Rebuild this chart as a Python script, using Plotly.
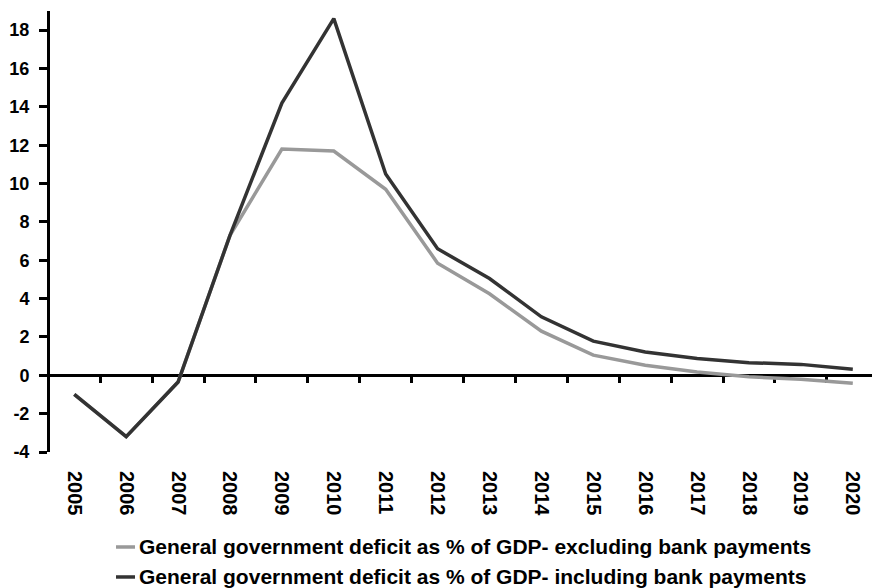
import plotly.graph_objects as go

# Fiscal balance series, % of GDP
years = ["2005", "2006", "2007", "2008", "2009", "2010", "2011", "2012",
         "2013", "2014", "2015", "2016", "2017", "2018", "2019", "2020"]
deficit_excl_banks = [-1.0, -3.2, -0.35, 7.3, 11.8, 11.7, 9.7, 5.85,
                      4.25, 2.3, 1.05, 0.52, 0.17, -0.08, -0.2, -0.42]
deficit_incl_banks = [-1.0, -3.2, -0.35, 7.3, 14.2, 18.6, 10.5, 6.6,
                      5.05, 3.05, 1.78, 1.22, 0.88, 0.66, 0.57, 0.32]
y_ticks = [-4, -2, 0, 2, 4, 6, 8, 10, 12, 14, 16, 18]

name_excl = "General government deficit as % of GDP- excluding bank payments"
name_incl = "General government deficit as % of GDP- including bank payments"

FONT = "Liberation Sans, Arial, sans-serif"
COL_EXCL = "#999999"
COL_INCL = "#333333"
idx = list(range(len(years)))
x_range = [-0.468, 15.37]
y_range = [-4, 19]

series = [(name_excl, deficit_excl_banks, COL_EXCL),
          (name_incl, deficit_incl_banks, COL_INCL)]

fig = go.Figure()
for name, vals, col in series:
    fig.add_trace(go.Scatter(
        x=idx, y=vals, mode="lines", name=name,
        line=dict(color=col, width=3.5), showlegend=False,
    ))
# carrier for the category axis drawn along y = 0
fig.add_trace(go.Scatter(x=[None], y=[None], xaxis="x2", showlegend=False,
                         hoverinfo="skip"))

# legend block below the year labels: short key line + bold label per series
legend_rows = [-0.2154, -0.2834]
key_x0, key_x1, text_x = 0.0803, 0.1034, 0.1058
for (name, _, col), ry in zip(series, legend_rows):
    fig.add_shape(type="line", xref="paper", yref="paper",
                  x0=key_x0, x1=key_x1, y0=ry, y1=ry,
                  line=dict(color=col, width=3.5))
    fig.add_annotation(xref="paper", yref="paper", x=text_x, y=ry,
                       xanchor="left", yanchor="middle", showarrow=False,
                       text=f"<b>{name}</b>",
                       font=dict(family=FONT, size=21, color="black"))

zero_pos = (0 - y_range[0]) / (y_range[1] - y_range[0])
between = [i + 0.5 for i in idx[:-1]]

fig.update_layout(
    width=872, height=588,
    margin=dict(l=50, r=0, t=11, b=136),
    paper_bgcolor="white", plot_bgcolor="white",
    font=dict(family=FONT, color="black"),
    xaxis=dict(
        range=x_range, showgrid=False, zeroline=False, showline=False,
        tickmode="array", tickvals=idx, ticktext=[f"<b>{y}</b>" for y in years],
        tickangle=90, ticks="", ticklabelstandoff=18,
        tickfont=dict(family=FONT, size=20, color="black"),
    ),
    xaxis2=dict(
        overlaying="x", anchor="free", position=zero_pos, side="bottom",
        range=x_range, showgrid=False, zeroline=False,
        showline=True, linecolor="black", linewidth=3,
        tickmode="array", tickvals=between, ticks="outside",
        ticklen=6, tickwidth=3, tickcolor="black",
        showticklabels=False, layer="below traces",
    ),
    yaxis=dict(
        range=y_range, showgrid=False, zeroline=False,
        showline=True, linecolor="black", linewidth=3,
        tickmode="array", tickvals=y_ticks,
        ticktext=[f"<b>{v}</b>" for v in y_ticks],
        ticks="outside", ticklen=8, tickwidth=3, tickcolor="black",
        ticklabelstandoff=6,
        tickfont=dict(family=FONT, size=18, color="black"),
    ),
)

fig.write_html("out.html")
